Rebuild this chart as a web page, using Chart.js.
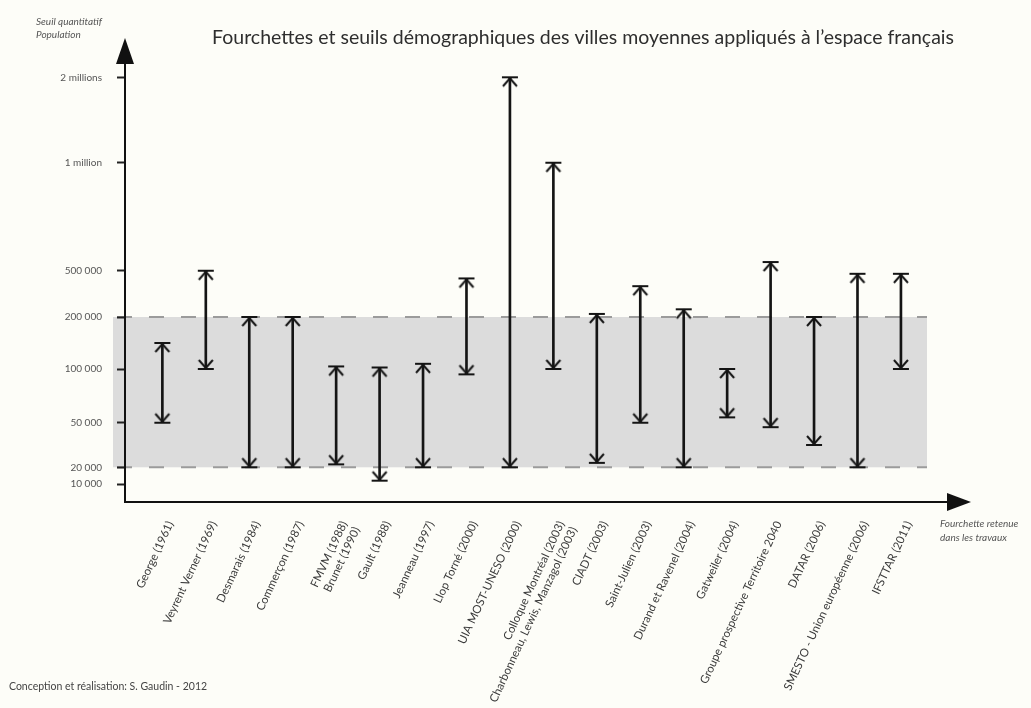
<!DOCTYPE html>
<html lang="fr">
<head>
<meta charset="utf-8">
<title>Fourchettes et seuils démographiques des villes moyennes</title>
<script src="https://cdn.jsdelivr.net/npm/chart.js@4.4.1/dist/chart.umd.min.js"></script>
<style>
  html, body { margin:0; padding:0; background:#fdfdf8; }
  canvas { display:block; }
</style>
</head>
<body>
<canvas id="villesChart" width="1031" height="708"></canvas>
<script>
/* =========================================================
   DATA
========================================================= */

const sources = [
  "George (1961)",
  "Veyrent Verner (1969)",
  "Desmarais (1984)",
  "Commerçon (1987)",
  ["FMVM (1988)", "Brunet (1990)"],
  "Gault (1988)",
  "Jeanneau (1997)",
  "Llop Torné (2000)",
  "UIA MOST-UNESO (2000)",
  ["Colloque Montréal (2003)", "Charbonneau, Lewis, Manzagol (2003)"],
  "CIADT (2003)",
  "Saint-Julien (2003)",
  "Durand et Ravenel (2004)",
  "Gatweiler (2004)",
  "Groupe prospective Territoire 2040",
  "DATAR (2006)",
  "SMESTO - Union européenne (2006)",
  "IFSTTAR (2011)"
];

// seuil bas / seuil haut (habitants)
const seuilBas = [
  50000, 100000, 20000, 20000, 22000, 12000, 20000, 95000, 20000,
  100000, 23000, 50000, 20000, 55000, 47000, 35000, 20000, 100000
];

const seuilHaut = [
  150000, 500000, 200000, 200000, 105000, 103000, 110000, 450000, 2000000,
  1000000, 220000, 400000, 250000, 100000, 540000, 200000, 480000, 480000
];

const tickValues = [10000, 20000, 50000, 100000, 200000, 500000, 1000000, 2000000];

const tickLabels = ["10 000", "20 000", "50 000", "100 000", "200 000", "500 000", "1 million", "2 millions"];

// fourchette retenue dans les travaux
const fourchette = [20000, 200000];

/* =========================================================
   AXE VERTICAL (échelle non régulière du dessin original)
========================================================= */

const tickAxisPos = [18, 34.7, 79.3, 133, 185, 231.3, 339.3, 424.7];
const axisMax = 462;

function toAxis(v){
  const n = tickValues.length;
  for(let k = 0; k < n - 1; k++){
    const a = tickValues[k], b = tickValues[k + 1];
    if(v <= b || k === n - 2){
      return tickAxisPos[k] +
        (v - a) / (b - a) * (tickAxisPos[k + 1] - tickAxisPos[k]);
    }
  }
}

/* =========================================================
   ARROW HEADS
========================================================= */

function capImage(up){
  const c = document.createElement("canvas");
  c.width = 20;
  c.height = 26;
  const g = c.getContext("2d");
  const y0 = 13;
  const dir = up ? 1 : -1;
  g.strokeStyle = "#141414";
  g.lineWidth = 2;
  g.beginPath();
  g.moveTo(2, y0);
  g.lineTo(18, y0);
  g.moveTo(3, y0 + dir * 9);
  g.lineTo(10, y0 + dir * 1);
  g.lineTo(17, y0 + dir * 9);
  g.stroke();
  return c;
}

const capUp = capImage(true);
const capDown = capImage(false);

const FONT = "Lato, 'Open Sans', sans-serif";

/* =========================================================
   DECOR PLUGIN
========================================================= */

const decor = {
  id:"decor",

  beforeDraw(chart){
    const {ctx, chartArea:a, scales:{y}} = chart;
    const yTop = y.getPixelForValue(toAxis(fourchette[1]));
    const yBot = y.getPixelForValue(toAxis(fourchette[0]));

    ctx.save();
    ctx.fillStyle = "#dcdcdc";
    ctx.fillRect(a.left - 12, yTop, a.right - a.left + 12, yBot - yTop);

    ctx.strokeStyle = "#9b9b9b";
    ctx.lineWidth = 2;
    ctx.setLineDash([15, 17]);
    [yTop, yBot].forEach(py => {
      ctx.beginPath();
      ctx.moveTo(a.left - 8, py);
      ctx.lineTo(a.right, py);
      ctx.stroke();
    });
    ctx.restore();
  },

  afterDatasetsDraw(chart){
    const {ctx, chartArea:a} = chart;
    ctx.save();

    /* axes */
    ctx.strokeStyle = "#111";
    ctx.fillStyle = "#111";
    ctx.lineWidth = 2;
    ctx.beginPath();
    ctx.moveTo(a.left, a.bottom + 1);
    ctx.lineTo(a.left, a.top + 20);
    ctx.moveTo(a.left - 1, a.bottom);
    ctx.lineTo(a.right + 25, a.bottom);
    ctx.stroke();

    ctx.beginPath();
    ctx.moveTo(a.left, a.top - 2);
    ctx.lineTo(a.left - 9, a.top + 24);
    ctx.lineTo(a.left + 9, a.top + 24);
    ctx.closePath();
    ctx.fill();

    ctx.beginPath();
    ctx.moveTo(a.right + 44, a.bottom);
    ctx.lineTo(a.right + 20, a.bottom - 9);
    ctx.lineTo(a.right + 20, a.bottom + 9);
    ctx.closePath();
    ctx.fill();

    /* texts */
    ctx.textBaseline = "middle";

    ctx.fillStyle = "#2e2e2e";
    ctx.font = "19.5px " + FONT;
    ctx.textAlign = "center";
    ctx.fillText(
      "Fourchettes et seuils démographiques des villes moyennes appliqués à l’espace français",
      583, 38
    );

    ctx.textAlign = "left";
    ctx.fillStyle = "#555";
    ctx.font = "italic 10px " + FONT;
    ctx.fillText("Seuil quantitatif", 36, 22);
    ctx.fillText("Population", 36, 35);

    ctx.fillText("Fourchette retenue", 940, 524);
    ctx.fillText("dans les travaux", 940, 538);

    ctx.fillStyle = "#444";
    ctx.font = "10.5px " + FONT;
    ctx.fillText("Conception et réalisation: S. Gaudin - 2012", 9, 687);

    ctx.restore();
  }
};

/* =========================================================
   CHART
========================================================= */

const ctx =
  document
    .getElementById("villesChart")
    .getContext("2d");

new Chart(ctx, {

  type:"bar",

  data:{
    datasets:[
      {
        type:"bar",
        data:sources.map((s, i) => ({
          x:i,
          y:[toAxis(seuilBas[i]), toAxis(seuilHaut[i])]
        })),
        backgroundColor:"#141414",
        borderWidth:0,
        barThickness:2
      },
      {
        type:"line",
        showLine:false,
        data:sources.map((s, i) => ({ x:i, y:toAxis(seuilHaut[i]) })),
        pointStyle:capUp,
        pointRadius:3
      },
      {
        type:"line",
        showLine:false,
        data:sources.map((s, i) => ({ x:i, y:toAxis(seuilBas[i]) })),
        pointStyle:capDown,
        pointRadius:3
      }
    ]
  },

  options:{

    responsive:false,

    animation:false,

    events:[],

    layout:{
      padding:{ top:40, right:104, left:0, bottom:0 }
    },

    plugins:{
      legend:{ display:false },
      tooltip:{ enabled:false }
    },

    scales:{

      x:{
        type:"linear",
        min:-0.86,
        max:17.6,
        offset:false,
        afterBuildTicks:s => {
          s.ticks = sources.map((lbl, i) => ({ value:i }));
        },
        afterFit:s => { s.height = 206; },
        grid:{ display:false },
        border:{ display:false },
        ticks:{
          autoSkip:false,
          minRotation:65,
          maxRotation:65,
          padding:9,
          labelOffset:8,
          color:"#3a3a3a",
          font:{ family:FONT, size:11.5 },
          callback:v => sources[v]
        }
      },

      y:{
        type:"linear",
        min:0,
        max:axisMax,
        afterBuildTicks:s => {
          s.ticks = tickAxisPos.map(v => ({ value:v }));
        },
        afterFit:s => { s.width = 125; },
        border:{ display:false },
        grid:{
          drawOnChartArea:false,
          drawTicks:true,
          tickLength:8,
          tickColor:"#222",
          tickWidth:2
        },
        ticks:{
          autoSkip:false,
          padding:15,
          color:"#555",
          font:{ family:FONT, size:10 },
          callback:v => tickLabels[tickAxisPos.indexOf(v)]
        }
      }

    }

  },

  plugins:[decor]

});
</script>
</body>
</html>
